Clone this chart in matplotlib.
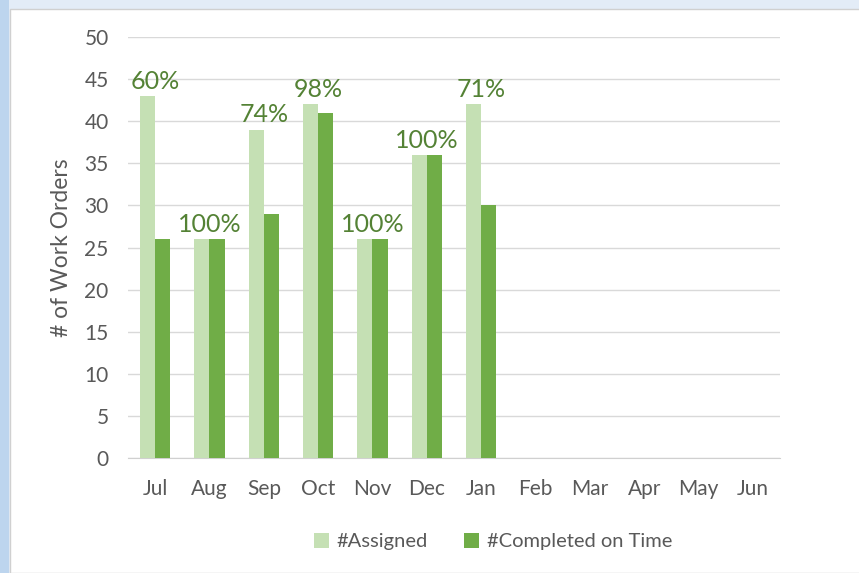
import numpy as np
import matplotlib.pyplot as plt
from matplotlib.patches import Rectangle

# data
months = ["Jul", "Aug", "Sep", "Oct", "Nov", "Dec", "Jan",
          "Feb", "Mar", "Apr", "May", "Jun"]
assigned = [43, 26, 39, 42, 26, 36, 42]
completed = [26, 26, 29, 41, 26, 36, 30]
pct_labels = ["60%", "100%", "74%", "98%", "100%", "100%", "71%"]

light = "#C5E0B4"
dark = "#70AD47"
label_col = "#548235"
text_col = "#595959"

plt.rcParams["font.family"] = ["Lato", "DejaVu Sans"]

fig = plt.figure(figsize=(8.59, 5.73), dpi=100)

# screenshot frame
fig.patches.append(Rectangle((0, 0), 1, 1, transform=fig.transFigure,
                             facecolor="#E3ECF7", edgecolor="none", zorder=-4))
fig.patches.append(Rectangle((0, 0), 9 / 859, 1, transform=fig.transFigure,
                             facecolor="#BDD5EE", edgecolor="none", zorder=-3))
fig.patches.append(Rectangle((10 / 859, 0), 1, 1 - 9 / 573, transform=fig.transFigure,
                             facecolor="white", edgecolor="#D0D0D0", lw=1, zorder=-2))

ax = fig.add_axes([128 / 859, 1 - 458 / 573, 652 / 859, 421 / 573])
ax.set_facecolor("none")

x = np.arange(len(months))
n = len(assigned)
w = 0.28
ax.bar(x[:n] - w / 2, assigned, w, color=light, label="#Assigned", zorder=3)
ax.bar(x[:n] + w / 2, completed, w, color=dark, label="#Completed on Time", zorder=3)

for i in range(n):
    top = max(assigned[i], completed[i])
    ax.text(x[i], top + 0.4, pct_labels[i], ha="center", va="bottom",
            fontsize=18, color=label_col, zorder=4)

ax.set_xlim(-0.5, len(months) - 0.5)
ax.set_ylim(0, 50)
ax.set_yticks(range(0, 51, 5))
ax.set_xticks(x)
ax.set_xticklabels(months)
ax.grid(axis="y", color="#D9D9D9", lw=1, zorder=0)
ax.tick_params(length=0, labelsize=15, colors=text_col)
ax.tick_params(axis="x", pad=15)
ax.tick_params(axis="y", pad=14)
for s in ["top", "right", "left"]:
    ax.spines[s].set_visible(False)
ax.spines["bottom"].set_color("#D0D0D0")
ax.set_ylabel("# of Work Orders", fontsize=16.5, color=text_col, labelpad=9)

ax.legend(loc="upper center", bbox_to_anchor=(0.56, -0.135), ncol=2,
          frameon=False, fontsize=14.5, labelcolor=text_col,
          handlelength=0.75, handleheight=0.75, handletextpad=0.4, columnspacing=1.8)

fig.savefig("out.png", dpi=100)
